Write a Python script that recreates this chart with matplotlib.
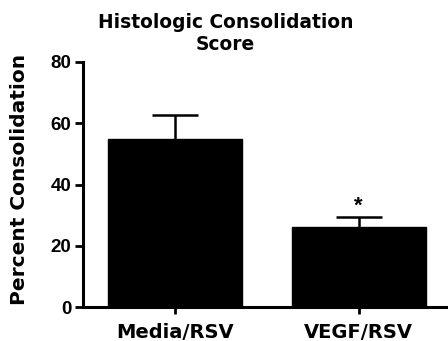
import matplotlib
matplotlib.use("Agg")
import matplotlib.pyplot as plt

categories = ["Media/RSV", "VEGF/RSV"]
means = [55, 26.2]
errors = [7.8, 3.3]
yticks = [0, 20, 40, 60, 80]
title = "Histologic Consolidation\nScore"
ylabel = "Percent Consolidation"

plt.rcParams['font.family'] = ['DejaVu Sans']
fig = plt.figure(figsize=(4.48, 3.41), dpi=100)
axw = 1 - 83/448 + 0.01
ax = fig.add_axes([83/448, 34/341, axw, (307-62)/341])
x = list(range(len(categories)))
ax.bar(x, means, width=0.727, color='black', edgecolor='black', zorder=2)
eb = ax.errorbar(x, means, yerr=[[0]*len(errors), errors], fmt='none', ecolor='black',
                 elinewidth=1.8, capsize=16.5, capthick=1.8, zorder=1)
if len(eb[1]) == 2:
    eb[1][0].set_visible(False)
ax.text(1, means[1] + errors[1] + 3.3, "*", ha='center', va='center',
        fontsize=16, fontweight='bold', family='Liberation Sans')
ax.set_xlim(-0.5, 1.51)
ax.set_ylim(0, 80)
ax.set_yticks(yticks)
ax.set_xticks(x)
ax.set_xticklabels(categories, fontsize=14, fontweight='bold')
ax.tick_params(axis='y', labelsize=13.5, width=2, length=6, pad=2.5)
for lbl in ax.get_yticklabels():
    lbl.set_fontweight('bold')
    lbl.set_family('Liberation Sans')
ax.tick_params(axis='x', width=2, length=5, pad=6.5)
for s in ['top', 'right']:
    ax.spines[s].set_visible(False)
for s in ['left', 'bottom']:
    ax.spines[s].set_linewidth(2.2)
ax.set_ylabel(ylabel, fontsize=14.5, fontweight='bold')
ax.yaxis.set_label_coords((19.5 - 83) / (axw * 448), 0.52)
ax.yaxis.label.set_verticalalignment('center')
fig.text(225.5/448, 1 - 34/341, title, ha='center', va='center', fontsize=13.4,
         fontweight='bold', linespacing=1.2)
fig.savefig("out.png", dpi=100)
